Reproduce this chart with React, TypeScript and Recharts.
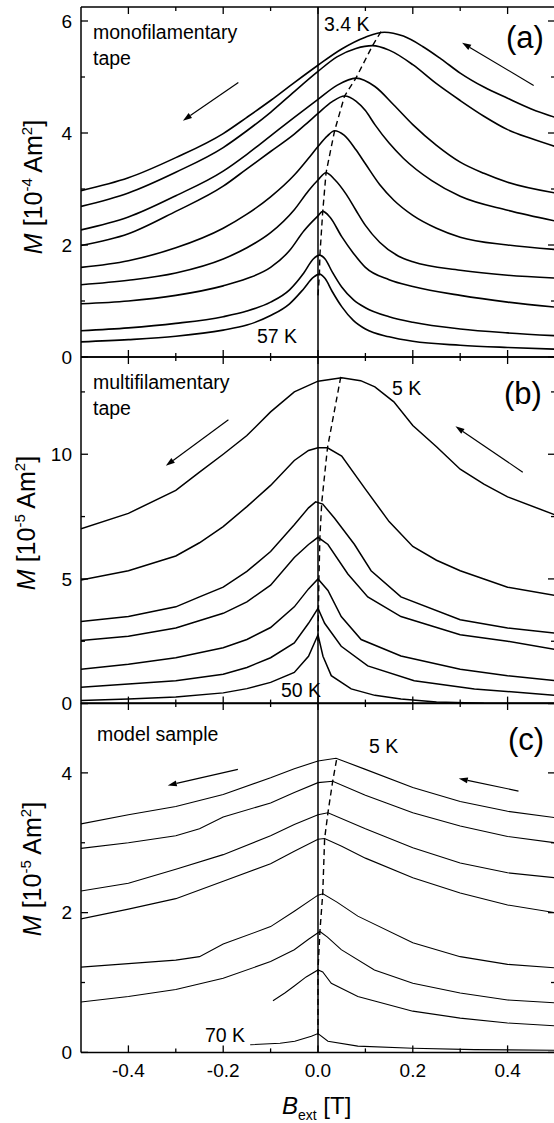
import React from 'react';
import { LineChart, Line, XAxis, YAxis, ReferenceLine } from 'recharts';

type Pt = [number, number];

// applied field B_ext [T]
const fieldTicks = [-0.4, -0.3, -0.2, -0.1, 0, 0.1, 0.2, 0.3, 0.4];
const fieldLabels = [-0.4, -0.2, 0, 0.2, 0.4];

// (a) monofilamentary tape, M [1e-4 Am^2], 3.4 K on top down to 57 K
const monoTicks = [0, 1, 2, 3, 4, 5, 6];
const monoLabels = [0, 2, 4, 6];
const mono34K: Pt[] = [[-0.5, 2.97], [-0.4, 3.2], [-0.3, 3.56], [-0.2, 3.99], [-0.15, 4.28], [-0.1, 4.58], [-0.05, 4.9], [0, 5.21], [0.05, 5.5], [0.1, 5.71], [0.14, 5.8], [0.18, 5.73], [0.22, 5.55], [0.26, 5.32], [0.3, 5.07], [0.35, 4.82], [0.4, 4.62], [0.45, 4.43], [0.5, 4.28]];
const monoT2: Pt[] = [[-0.5, 2.69], [-0.4, 2.93], [-0.3, 3.3], [-0.2, 3.74], [-0.15, 4.04], [-0.1, 4.37], [-0.05, 4.74], [0, 5.1], [0.04, 5.36], [0.08, 5.51], [0.115, 5.56], [0.15, 5.48], [0.2, 5.22], [0.25, 4.88], [0.3, 4.58], [0.35, 4.3], [0.4, 4.06], [0.45, 3.9], [0.5, 3.76]];
const monoT3: Pt[] = [[-0.5, 2.27], [-0.4, 2.5], [-0.3, 2.88], [-0.2, 3.32], [-0.15, 3.62], [-0.1, 3.95], [-0.05, 4.28], [0, 4.6], [0.04, 4.85], [0.08, 4.98], [0.12, 4.83], [0.16, 4.5], [0.2, 4.15], [0.25, 3.78], [0.3, 3.48], [0.35, 3.28], [0.4, 3.12], [0.5, 2.93]];
const monoT4: Pt[] = [[-0.5, 1.99], [-0.4, 2.2], [-0.3, 2.6], [-0.2, 3.05], [-0.15, 3.36], [-0.1, 3.67], [-0.05, 3.98], [-0.02, 4.2], [0, 4.35], [0.03, 4.56], [0.056, 4.66], [0.08, 4.57], [0.1, 4.4], [0.12, 4.15], [0.15, 3.82], [0.18, 3.55], [0.24, 3.15], [0.3, 2.87], [0.4, 2.62], [0.5, 2.43]];
const monoT5: Pt[] = [[-0.5, 1.6], [-0.4, 1.72], [-0.3, 1.95], [-0.2, 2.3], [-0.15, 2.55], [-0.1, 2.86], [-0.05, 3.25], [-0.02, 3.55], [0, 3.76], [0.02, 3.95], [0.035, 4.04], [0.055, 3.96], [0.08, 3.7], [0.1, 3.45], [0.13, 3.08], [0.16, 2.8], [0.2, 2.53], [0.25, 2.3], [0.3, 2.14], [0.4, 2.0], [0.5, 1.92]];
const monoT6: Pt[] = [[-0.5, 1.29], [-0.4, 1.37], [-0.3, 1.5], [-0.2, 1.75], [-0.15, 1.95], [-0.1, 2.22], [-0.05, 2.63], [-0.02, 2.97], [0, 3.16], [0.017, 3.29], [0.035, 3.17], [0.06, 2.9], [0.08, 2.62], [0.1, 2.35], [0.13, 2.05], [0.17, 1.8], [0.2, 1.7], [0.3, 1.55], [0.4, 1.46], [0.5, 1.41]];
const monoT7: Pt[] = [[-0.5, 0.95], [-0.4, 1.0], [-0.3, 1.1], [-0.2, 1.27], [-0.15, 1.4], [-0.1, 1.6], [-0.06, 1.9], [-0.03, 2.25], [0, 2.52], [0.01, 2.6], [0.025, 2.5], [0.05, 2.15], [0.075, 1.85], [0.1, 1.6], [0.15, 1.38], [0.2, 1.26], [0.3, 1.1], [0.4, 0.98], [0.5, 0.89]];
const monoT8: Pt[] = [[-0.5, 0.47], [-0.4, 0.52], [-0.3, 0.6], [-0.2, 0.72], [-0.15, 0.82], [-0.1, 0.98], [-0.06, 1.2], [-0.03, 1.5], [-0.01, 1.75], [0.003, 1.82], [0.015, 1.75], [0.03, 1.52], [0.05, 1.25], [0.075, 1.02], [0.1, 0.88], [0.15, 0.72], [0.2, 0.62], [0.3, 0.5], [0.4, 0.43], [0.5, 0.38]];
const mono57K: Pt[] = [[-0.5, 0.27], [-0.4, 0.31], [-0.3, 0.37], [-0.2, 0.48], [-0.15, 0.57], [-0.1, 0.74], [-0.06, 0.95], [-0.03, 1.22], [-0.01, 1.42], [0.003, 1.48], [0.015, 1.4], [0.03, 1.17], [0.05, 0.9], [0.075, 0.65], [0.1, 0.5], [0.15, 0.36], [0.2, 0.28], [0.3, 0.21], [0.4, 0.17], [0.5, 0.14]];
const monoPeaks: Pt[] = [[0, 1.1], [0.003, 1.48], [0.004, 1.82], [0.01, 2.6], [0.017, 3.29], [0.035, 4.04], [0.056, 4.66], [0.08, 4.98], [0.115, 5.56], [0.135, 5.84]];
const monoArrows: [Pt, Pt][] = [[[-0.168, 4.9], [-0.285, 4.22]], [[0.455, 4.85], [0.304, 5.61]]];

// (b) multifilamentary tape, M [1e-5 Am^2], 5 K on top down to 50 K
const multiTicks = [0, 2.5, 5, 7.5, 10, 12.5];
const multiLabels = [0, 5, 10];
const multi5K: Pt[] = [[-0.5, 7.01], [-0.4, 7.63], [-0.3, 8.55], [-0.25, 9.28], [-0.2, 10.0], [-0.15, 10.75], [-0.1, 11.7], [-0.05, 12.5], [0, 12.93], [0.05, 13.07], [0.09, 12.95], [0.12, 12.7], [0.16, 12.1], [0.2, 11.15], [0.25, 10.3], [0.3, 9.4], [0.35, 8.8], [0.4, 8.29], [0.5, 7.57]];
const multiT2: Pt[] = [[-0.5, 4.96], [-0.4, 5.33], [-0.3, 5.92], [-0.25, 6.45], [-0.2, 7.1], [-0.15, 7.9], [-0.1, 8.75], [-0.05, 9.75], [-0.02, 10.15], [0, 10.26], [0.02, 10.26], [0.05, 9.93], [0.1, 8.6], [0.15, 7.3], [0.2, 6.3], [0.25, 5.75], [0.3, 5.33], [0.4, 4.67], [0.5, 4.34]];
const multiT3: Pt[] = [[-0.5, 3.29], [-0.4, 3.49], [-0.3, 3.88], [-0.25, 4.28], [-0.2, 4.67], [-0.15, 5.3], [-0.1, 6.1], [-0.05, 7.17], [-0.02, 7.85], [-0.005, 8.09], [0.01, 8.0], [0.035, 7.43], [0.077, 6.38], [0.112, 5.33], [0.175, 4.28], [0.3, 3.36], [0.4, 3.03], [0.5, 2.83]];
const multiT4: Pt[] = [[-0.5, 2.53], [-0.4, 2.7], [-0.3, 3.03], [-0.2, 3.62], [-0.15, 4.08], [-0.1, 4.75], [-0.05, 5.86], [-0.02, 6.38], [0, 6.67], [0.021, 6.38], [0.063, 5.2], [0.105, 4.28], [0.175, 3.49], [0.3, 2.76], [0.4, 2.5], [0.5, 2.17]];
const multiT5: Pt[] = [[-0.5, 1.38], [-0.4, 1.58], [-0.3, 1.84], [-0.2, 2.24], [-0.15, 2.57], [-0.1, 3.05], [-0.05, 3.88], [-0.02, 4.6], [0, 5.0], [0.021, 4.54], [0.049, 3.49], [0.091, 2.57], [0.175, 1.91], [0.3, 1.38], [0.4, 1.12], [0.5, 0.92]];
const multiT6: Pt[] = [[-0.5, 0.66], [-0.4, 0.79], [-0.3, 0.92], [-0.2, 1.18], [-0.15, 1.45], [-0.1, 1.84], [-0.05, 2.43], [-0.02, 3.22], [0, 3.82], [0.014, 3.22], [0.049, 2.3], [0.105, 1.51], [0.203, 0.92], [0.33, 0.59], [0.5, 0.33]];
const multi50K: Pt[] = [[-0.5, 0.12], [-0.4, 0.18], [-0.3, 0.26], [-0.2, 0.43], [-0.15, 0.6], [-0.1, 0.85], [-0.05, 1.25], [-0.02, 1.9], [0, 2.76], [0.0105, 1.9], [0.028, 1.12], [0.07, 0.59], [0.12, 0.33], [0.175, 0.18], [0.25, 0.06], [0.35, 0.01], [0.5, 0.0]];
const multiPeaks: Pt[] = [[0, 2.5], [0.001, 3.82], [0.002, 5.0], [0.004, 6.67], [0.008, 8.09], [0.02, 10.26], [0.048, 13.1]];
const multiArrows: [Pt, Pt][] = [[[-0.189, 11.38], [-0.321, 9.54]], [[0.432, 9.28], [0.29, 11.12]]];

// (c) model sample, M [1e-5 Am^2], 5 K on top down to 70 K
const modelTicks = [0, 1, 2, 3, 4];
const modelLabels = [0, 2, 4];
const model5K: Pt[] = [[-0.5, 3.27], [-0.4, 3.4], [-0.3, 3.52], [-0.2, 3.69], [-0.1, 3.93], [-0.05, 4.06], [0, 4.17], [0.038, 4.21], [0.1, 4.05], [0.2, 3.79], [0.3, 3.59], [0.4, 3.45], [0.5, 3.36]];
const modelT2: Pt[] = [[-0.5, 2.92], [-0.4, 3.0], [-0.3, 3.1], [-0.25, 3.2], [-0.2, 3.37], [-0.1, 3.57], [-0.05, 3.72], [0, 3.86], [0.031, 3.88], [0.1, 3.68], [0.2, 3.43], [0.3, 3.24], [0.4, 3.09], [0.5, 3.0]];
const modelT3: Pt[] = [[-0.5, 2.31], [-0.4, 2.42], [-0.3, 2.62], [-0.2, 2.83], [-0.1, 3.1], [-0.05, 3.26], [0, 3.4], [0.021, 3.43], [0.1, 3.2], [0.2, 2.93], [0.3, 2.71], [0.4, 2.57], [0.5, 2.5]];
const modelT4: Pt[] = [[-0.5, 1.91], [-0.4, 2.05], [-0.3, 2.2], [-0.2, 2.45], [-0.1, 2.7], [-0.05, 2.88], [0, 3.05], [0.014, 3.06], [0.05, 2.95], [0.1, 2.78], [0.2, 2.5], [0.3, 2.28], [0.4, 2.11], [0.5, 2.0]];
const modelT5: Pt[] = [[-0.5, 1.22], [-0.4, 1.27], [-0.3, 1.32], [-0.25, 1.37], [-0.2, 1.55], [-0.1, 1.8], [-0.05, 2.02], [0, 2.25], [0.0105, 2.27], [0.04, 2.15], [0.084, 1.95], [0.2, 1.57], [0.3, 1.37], [0.4, 1.26], [0.5, 1.21]];
const modelT6: Pt[] = [[-0.5, 0.72], [-0.4, 0.8], [-0.3, 0.9], [-0.2, 1.06], [-0.1, 1.3], [-0.05, 1.47], [-0.02, 1.62], [0.004, 1.73], [0.02, 1.65], [0.049, 1.47], [0.119, 1.18], [0.2, 0.99], [0.3, 0.85], [0.4, 0.75], [0.5, 0.71]];
const modelT7: Pt[] = [[-0.095, 0.74], [-0.07, 0.85], [-0.05, 0.95], [-0.025, 1.08], [0, 1.18], [0.01, 1.15], [0.028, 0.99], [0.084, 0.8], [0.2, 0.59], [0.3, 0.49], [0.4, 0.42], [0.5, 0.38]];
const model70K: Pt[] = [[-0.143, 0.11], [-0.08, 0.13], [-0.049, 0.16], [-0.014, 0.23], [0, 0.27], [0.021, 0.16], [0.084, 0.09], [0.2, 0.06], [0.33, 0.04], [0.5, 0.03]];
const modelPeaks: Pt[] = [[0, 0.25], [0, 1.18], [0.004, 1.73], [0.01, 2.27], [0.014, 3.06], [0.021, 3.43], [0.031, 3.88], [0.04, 4.22]];
const modelArrows: [Pt, Pt][] = [[[-0.169, 4.05], [-0.317, 3.82]], [[0.423, 3.74], [0.297, 3.92]]];

const FONT = '"Liberation Sans", Arial, Helvetica, sans-serif';
const PLOT_LEFT = 81;
const PLOT_W = 474;
const RIGHT_W = 30;
const TOP_H = 10;

const toRows = (pts: Pt[]) => pts.map(([b, m]) => ({ b, m }));
const near = (list: number[], v: number) => list.some((l) => Math.abs(l - v) < 1e-6);

const xTick = (edge: 'top' | 'bottom', withText: boolean) => (p: any) => {
  const v = p.payload.value;
  const major = near(fieldLabels, v);
  const len = major ? 7 : 4;
  const dir = edge === 'bottom' ? -1 : 1;
  return (
    <g>
      <line x1={p.x} y1={p.y} x2={p.x} y2={p.y + dir * len} stroke="#000" strokeWidth={1.3} />
      {withText && major && (
        <text x={p.x} y={p.y + 25} textAnchor="middle" fontSize={19} fontFamily={FONT} fill="#000">
          {v.toFixed(1)}
        </text>
      )}
    </g>
  );
};

const yTick = (side: 'left' | 'right', labels: number[]) => (p: any) => {
  const v = p.payload.value;
  const major = near(labels, v);
  const len = major ? 7 : 4;
  const dir = side === 'left' ? 1 : -1;
  return (
    <g>
      <line x1={p.x} y1={p.y} x2={p.x + dir * len} y2={p.y} stroke="#000" strokeWidth={1.3} />
      {side === 'left' && major && (
        <text x={p.x - 9} y={p.y} dy="0.36em" textAnchor="end" fontSize={19} fontFamily={FONT} fill="#000">
          {v}
        </text>
      )}
    </g>
  );
};

const arrowShape = (p: any) => {
  const { x1, y1, x2, y2 } = p;
  const ang = Math.atan2(y2 - y1, x2 - x1);
  const bx = x2 - 9 * Math.cos(ang);
  const by = y2 - 9 * Math.sin(ang);
  const px = -Math.sin(ang) * 3;
  const py = Math.cos(ang) * 3;
  return (
    <g>
      <line x1={x1} y1={y1} x2={bx} y2={by} stroke="#000" strokeWidth={1.2} />
      <polygon points={`${x2},${y2} ${bx + px},${by + py} ${bx - px},${by - py}`} fill="#000" />
    </g>
  );
};

interface PanelProps {
  plotTop: number;
  plotH: number;
  yMax: number;
  yTicks: number[];
  yLabels: number[];
  curves: Pt[][];
  peaks: Pt[];
  arrows: [Pt, Pt][];
  curveType: 'monotone' | 'linear';
  strokeWidth: number;
  xText: boolean;
}

const Panel: React.FC<PanelProps> = ({ plotTop, plotH, yMax, yTicks, yLabels, curves, peaks, arrows, curveType, strokeWidth, xText }) => {
  const bottomH = xText ? 40 : 10;
  const axisStyle = { stroke: '#000', strokeWidth: 1.5 };
  return (
    <div style={{ position: 'absolute', left: 0, top: plotTop - TOP_H }}>
      <LineChart width={PLOT_LEFT + PLOT_W + RIGHT_W} height={TOP_H + plotH + bottomH} margin={{ top: 0, right: 0, bottom: 0, left: 0 }}>
        <XAxis dataKey="b" type="number" domain={[-0.5, 0.5]} allowDataOverflow ticks={fieldTicks} interval={0} height={bottomH} tickSize={0} tickMargin={0} tickLine={false} axisLine={axisStyle} tick={xTick('bottom', xText)} />
        <XAxis xAxisId="top" orientation="top" dataKey="b" type="number" domain={[-0.5, 0.5]} allowDataOverflow ticks={fieldTicks} interval={0} height={TOP_H} tickSize={0} tickMargin={0} tickLine={false} axisLine={axisStyle} tick={xTick('top', false)} />
        <YAxis type="number" domain={[0, yMax]} allowDataOverflow ticks={yTicks} interval={0} width={PLOT_LEFT} tickSize={0} tickMargin={0} tickLine={false} axisLine={axisStyle} tick={yTick('left', yLabels)} />
        <YAxis yAxisId="r" orientation="right" type="number" domain={[0, yMax]} allowDataOverflow ticks={yTicks} interval={0} width={RIGHT_W} tickSize={0} tickMargin={0} tickLine={false} axisLine={axisStyle} tick={yTick('right', yLabels)} />
        <ReferenceLine x={0} stroke="#000" strokeWidth={1.5} />
        {curves.map((c, i) => (
          <Line key={i} data={toRows(c)} dataKey="m" type={curveType} stroke="#000" strokeWidth={strokeWidth} dot={false} activeDot={false} isAnimationActive={false} />
        ))}
        <Line data={toRows(peaks)} dataKey="m" type="linear" stroke="#000" strokeWidth={1.4} strokeDasharray="6 4" dot={false} activeDot={false} isAnimationActive={false} />
        {arrows.map(([from, to], i) => (
          <ReferenceLine key={`arrow-${i}`} segment={[{ x: from[0], y: from[1] }, { x: to[0], y: to[1] }]} ifOverflow="visible" shape={arrowShape} />
        ))}
      </LineChart>
    </div>
  );
};

const YTitle: React.FC<{ x: number; y: number; exp: string }> = ({ x, y, exp }) => (
  <text transform={`rotate(-90 ${x} ${y})`} x={x} y={y} textAnchor="middle" fontSize={25} fontFamily={FONT} fill="#000">
    <tspan fontStyle="italic">M</tspan>
    <tspan> [10</tspan>
    <tspan dy={-10} fontSize={15}>{exp}</tspan>
    <tspan dy={10}> Am</tspan>
    <tspan dy={-10} fontSize={15}>2</tspan>
    <tspan dy={10}>]</tspan>
  </text>
);

const noteStyle = { fontSize: 19.5, fontFamily: FONT, fill: '#000' };
const tagStyle = { fontSize: 31, fontFamily: FONT, fill: '#000' };

export default function App() {
  return (
    <div style={{ position: 'absolute', left: 0, top: 0, width: 554, height: 1123, overflow: 'hidden', background: '#fff' }}>
      <Panel plotTop={6.7} plotH={350} yMax={6.25} yTicks={monoTicks} yLabels={monoLabels}
        curves={[mono34K, monoT2, monoT3, monoT4, monoT5, monoT6, monoT7, monoT8, mono57K]}
        peaks={monoPeaks} arrows={monoArrows} curveType="monotone" strokeWidth={1.6} xText={false} />
      <Panel plotTop={356.7} plotH={346.6} yMax={13.9} yTicks={multiTicks} yLabels={multiLabels}
        curves={[multi5K, multiT2, multiT3, multiT4, multiT5, multiT6, multi50K]}
        peaks={multiPeaks} arrows={multiArrows} curveType="linear" strokeWidth={1.5} xText={false} />
      <Panel plotTop={703.3} plotH={349.4} yMax={5} yTicks={modelTicks} yLabels={modelLabels}
        curves={[model5K, modelT2, modelT3, modelT4, modelT5, modelT6, modelT7, model70K]}
        peaks={modelPeaks} arrows={modelArrows} curveType="linear" strokeWidth={1.1} xText={true} />
      <svg width={554} height={1123} style={{ position: 'absolute', left: 0, top: 0, pointerEvents: 'none' }}>
        <text x={93} y={39} {...noteStyle}>monofilamentary</text>
        <text x={93} y={65} {...noteStyle}>tape</text>
        <text x={324} y={31} {...noteStyle}>3.4 K</text>
        <text x={257} y={343} {...noteStyle}>57 K</text>
        <text x={506} y={48} {...tagStyle}>(a)</text>

        <text x={93} y={389} {...noteStyle}>multifilamentary</text>
        <text x={93} y={415} {...noteStyle}>tape</text>
        <text x={392} y={395} {...noteStyle}>5 K</text>
        <text x={281} y={697} {...noteStyle}>50 K</text>
        <text x={504} y={404} {...tagStyle}>(b)</text>

        <text x={97} y={741} {...noteStyle}>model sample</text>
        <text x={369} y={753} {...noteStyle}>5 K</text>
        <text x={205} y={1042} {...noteStyle}>70 K</text>
        <text x={508} y={750} {...tagStyle}>(c)</text>

        <YTitle x={42} y={187} exp="-4" />
        <YTitle x={34.5} y={523} exp="-5" />
        <YTitle x={40.5} y={869} exp="-5" />

        <text x={282} y={1114} fontSize={24} fontFamily={FONT} fill="#000">
          <tspan fontStyle="italic">B</tspan>
          <tspan dy={6} fontSize={14}>ext</tspan>
          <tspan dy={-6}> [T]</tspan>
        </text>
      </svg>
    </div>
  );
}
